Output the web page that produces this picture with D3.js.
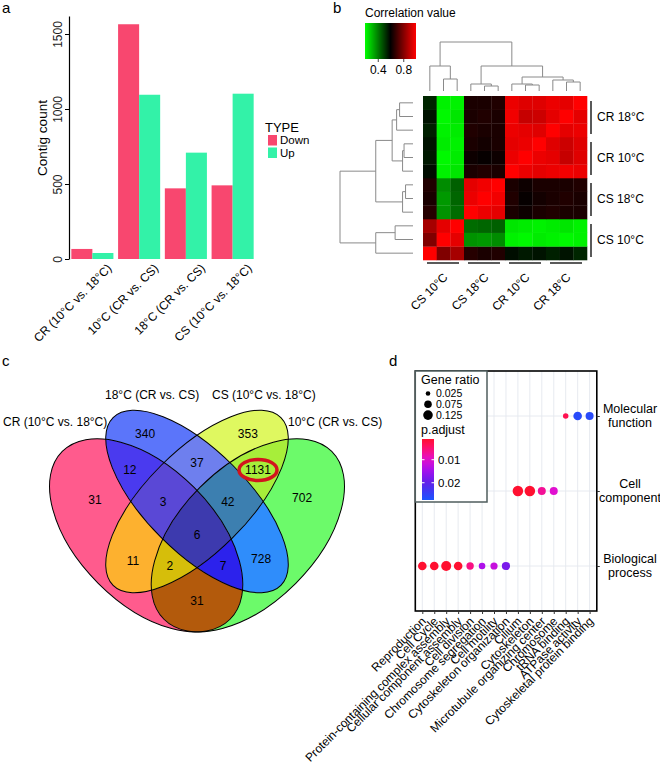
<!DOCTYPE html>
<html><head><meta charset="utf-8">
<script src="https://cdn.jsdelivr.net/npm/d3@7"></script>
<style>body{margin:0;background:#fff} svg{display:block;font-family:"Liberation Sans",Arial,Helvetica,sans-serif}</style>
</head><body><svg id="fig" width="660" height="769"></svg>
<script>
// ================= DATA =================
// Panel a
const groupsA = ["CR (10°C vs. 18°C)", "10°C (CR vs. CS)", "18°C (CR vs. CS)", "CS (10°C vs. 18°C)"];
const typesA = ["Down", "Up"];
const downCounts = [67, 1565, 471, 491];
const upCounts = [40, 1095, 709, 1102];
const yTicksA = [0, 500, 1000, 1500];

// Panel b
const sampleGroups = ["CS 10°C", "CS 18°C", "CR 10°C", "CR 18°C"];
const sampleGroupOf = [0,0,0,1,1,1,2,2,2,3,3,3];
const corr = [
  [1.00,0.80,0.86,0.66,0.64,0.65,0.58,0.56,0.57,0.55,0.57,0.54],
  [0.80,1.00,0.96,0.37,0.36,0.38,0.22,0.21,0.23,0.22,0.21,0.22],
  [0.86,0.96,1.00,0.43,0.44,0.45,0.24,0.23,0.22,0.23,0.24,0.22],
  [0.66,0.37,0.43,1.00,0.97,0.96,0.64,0.62,0.64,0.65,0.64,0.64],
  [0.64,0.36,0.44,0.97,1.00,0.98,0.65,0.61,0.63,0.64,0.65,0.64],
  [0.65,0.38,0.45,0.96,0.98,1.00,0.64,0.62,0.64,0.64,0.64,0.65],
  [0.58,0.22,0.24,0.64,0.65,0.64,1.00,0.97,0.96,0.97,0.98,0.97],
  [0.56,0.21,0.23,0.62,0.61,0.62,0.97,1.00,0.97,0.96,0.91,0.95],
  [0.57,0.23,0.22,0.64,0.63,0.64,0.96,0.97,1.00,0.95,0.92,0.95],
  [0.55,0.22,0.23,0.65,0.64,0.64,0.97,0.96,0.95,1.00,0.96,0.97],
  [0.57,0.21,0.24,0.64,0.65,0.64,0.98,0.91,0.92,0.96,1.00,0.96],
  [0.54,0.22,0.22,0.64,0.64,0.65,0.97,0.95,0.95,0.97,0.96,1.00]
];
const corrKeyTicks = [0.4, 0.8];
// dendrogram: [height, left, right], leaves = sample index
const dendroTree = [49, [25, 0, [12, 1, 2]], [25, [7, 3, [5, 4, 5]], [14, [7, 6, [6, 7, 8]], [11, 9, [9, 10, 11]]]]];

// Panel c
const vennSets = ["CR (10°C vs. 18°C)", "18°C (CR vs. CS)", "CS (10°C vs. 18°C)", "10°C (CR vs. CS)"];
const vennRegionSets = [[0],[1],[2],[3],[0,1],[1,2],[2,3],[0,2],[1,3],[0,3],[0,1,2],[1,2,3],[0,2,3],[0,1,3],[0,1,2,3]];
const vennCounts = [31, 340, 353, 702, 12, 37, 1131, 11, 728, 31, 3, 42, 2, 7, 6];
const vennRegionColors = ["#FF5B8D","#5B75FA","#DFF860","#6CFA6A","#4A3AEF","#6E7FEE","#A7EE3A","#FDB12F","#2F8DFB","#B35A0C","#5A48D6","#3C7FB0","#D6BE0A","#2C22EC","#3D3AAE"];
const vennHighlight = 1131;

// Panel d
const goTerms = ["Reproduction","Cell Cycle","Protein-containing complex assembly","Cellular component assembly","Cell division","Chromosome segregation","Cell motility","Cytoskeleton organization","Cilium","Cytoskeleton","Microtubule organizing center","Chromosome","tRNA binding","ATPase activity","Cytoskeletal protein binding"];
const goCategories = ["Molecular function","Cell component","Biological process"];
const goTermCategory = ["Biological process","Biological process","Biological process","Biological process","Biological process","Biological process","Biological process","Biological process","Cell component","Cell component","Cell component","Cell component","Molecular function","Molecular function","Molecular function"];
const geneRatio = [0.099,0.099,0.137,0.099,0.072,0.056,0.068,0.090,0.152,0.152,0.085,0.085,0.037,0.099,0.085];
const pAdjust = [0.001,0.001,0.001,0.001,0.006,0.014,0.012,0.018,0.001,0.001,0.007,0.010,0.003,0.026,0.026];
const sizeLegendValues = [0.025, 0.075, 0.125];
const pLegendTicks = [0.01, 0.02];

// ================= DRAW =================
const svg = d3.select("#fig");
const defs = svg.append("defs");
const FONT = 12;
const FF = '"Liberation Sans",Arial,sans-serif';

function panelLabel(t, x, y){ svg.append("text").attr("x",x).attr("y",y).attr("font-size",15).text(t); }
panelLabel("a", 2, 13); panelLabel("b", 333, 13); panelLabel("c", 2, 366); panelLabel("d", 389, 366);

// ---------- Panel a ----------
{
  const g = svg.append("g");
  const x = d3.scaleBand().domain(groupsA).range([69, 256]).paddingInner(0.1).paddingOuter(0.05);
  const xs = d3.scaleBand().domain(typesA).range([0, x.bandwidth()]);
  const y = d3.scaleLinear().domain([0, 1620]).range([259, 16]);
  const col = d3.scaleOrdinal().domain(typesA).range(["#F8476F", "#33F2A8"]);
  const rows = [];
  groupsA.forEach((grp, i) => { rows.push({grp, type:"Down", v:downCounts[i]}); rows.push({grp, type:"Up", v:upCounts[i]}); });
  g.selectAll("rect.bar").data(rows).join("rect").attr("class","bar")
    .attr("x", d => x(d.grp) + xs(d.type)).attr("width", xs.bandwidth())
    .attr("y", d => y(d.v)).attr("height", d => y(0) - y(d.v))
    .attr("fill", d => col(d.type));
  const ax = g.append("g").attr("transform","translate(69,0)")
    .call(d3.axisLeft(y).tickValues(yTicksA).tickFormat(d3.format("d")).tickSize(4).tickSizeOuter(0));
  ax.select(".domain").attr("stroke","#000").attr("stroke-width",1.2);
  ax.selectAll(".tick line").attr("stroke","#000");
  ax.selectAll(".tick text").attr("transform","rotate(-90)").attr("x",0).attr("y",-7).attr("dy",0)
    .attr("text-anchor","middle").attr("font-size",FONT).attr("fill","#222").attr("font-family",FF);
  g.append("text").attr("transform","translate(47,138) rotate(-90)").attr("text-anchor","middle")
    .attr("font-size",13.5).text("Contig count");
  g.selectAll("text.xl").data(groupsA).join("text").attr("class","xl")
    .attr("transform", d => `translate(${x(d)+x.bandwidth()/2+20},269) rotate(-45)`)
    .attr("text-anchor","end").attr("font-size",FONT).text(d => d);
  // legend
  g.append("text").attr("x",265).attr("y",132).attr("font-size",13).text("TYPE");
  typesA.forEach((t,i) => {
    g.append("rect").attr("x",268).attr("y",135+i*12.5).attr("width",9).attr("height",10.5).attr("fill",col(t));
    g.append("text").attr("x",280).attr("y",144+i*12.5).attr("font-size",11.5).text(t);
  });
}

// ---------- Panel b ----------
{
  const g = svg.append("g");
  const n = corr.length;
  const x = d3.scaleBand().domain(d3.range(n)).range([423, 587]);
  const y = d3.scaleBand().domain(d3.range(n-1, -1, -1)).range([96, 260]);
  const cs = d3.scaleLinear().domain([0.2, 0.6, 1.0]).range(["#00ff00","#000000","#ff0000"]).clamp(true);
  const cells = [];
  corr.forEach((row, i) => row.forEach((v, j) => cells.push({i, j, v})));
  g.selectAll("rect.cell").data(cells).join("rect").attr("class","cell")
    .attr("x", d => x(d.j)).attr("y", d => y(d.i))
    .attr("width", x.bandwidth()+0.3).attr("height", y.bandwidth()+0.3)
    .attr("fill", d => cs(d.v));
  // key
  const grad = defs.append("linearGradient").attr("id","corrGrad");
  d3.range(0, 1.0001, 0.1).forEach(t => grad.append("stop").attr("offset", t).attr("stop-color", cs(0.2 + 0.8*t)));
  const kx = d3.scaleLinear().domain([0.2, 1.0]).range([365, 416]);
  g.append("rect").attr("x",365).attr("y",23).attr("width",51).attr("height",36).attr("fill","url(#corrGrad)");
  g.append("text").attr("x",365).attr("y",17).attr("font-size",FONT).text("Correlation value");
  const kt = g.append("g").attr("transform","translate(0,59)")
    .call(d3.axisBottom(kx).tickValues(corrKeyTicks).tickSize(3).tickSizeOuter(0).tickFormat(d3.format(".1f")));
  kt.select(".domain").remove();
  kt.selectAll(".tick line").attr("stroke","#444");
  kt.selectAll(".tick text").attr("font-size",FONT).attr("fill","#000").attr("y",6).attr("font-family",FF);
  // dendrograms
  const segs = [];
  function walk(node, pos){
    if (typeof node === "number") return {p: pos(node), h: 0};
    const [h, l, r] = node;
    const L = walk(l, pos), R = walk(r, pos);
    segs.push([L.p, L.h, L.p, h], [R.p, R.h, R.p, h], [L.p, h, R.p, h]);
    return {p: (L.p + R.p)/2, h};
  }
  walk(dendroTree, s => x(s) + x.bandwidth()/2);
  const hy = d3.scaleLinear().domain([0, 49]).range([91, 42]);
  g.selectAll("line.cd").data(segs).join("line").attr("class","cd")
    .attr("x1", d => d[0]).attr("y1", d => hy(d[1])).attr("x2", d => d[2]).attr("y2", d => hy(d[3]))
    .attr("stroke","#8a8a8a").attr("stroke-width",1);
  segs.length = 0;
  walk(dendroTree, s => y(s) + y.bandwidth()/2);
  const hx = d3.scaleLinear().domain([0, 49]).range([413, 340]);
  g.selectAll("line.rd").data(segs).join("line").attr("class","rd")
    .attr("y1", d => d[0]).attr("x1", d => hx(d[1])).attr("y2", d => d[2]).attr("x2", d => hx(d[3]))
    .attr("stroke","#8a8a8a").attr("stroke-width",1);
  // group annotations
  sampleGroups.forEach((gname, gi) => {
    const idx = d3.range(n).filter(k => sampleGroupOf[k] === gi);
    const x0 = d3.min(idx, k => x(k)), x1 = d3.max(idx, k => x(k) + x.bandwidth());
    g.append("line").attr("x1", x0+4).attr("x2", x1-5).attr("y1",263).attr("y2",263).attr("stroke","#000").attr("stroke-width",1.3);
    g.append("text").attr("transform",`translate(${(x0+x1)/2+5},278) rotate(-45)`).attr("text-anchor","end")
      .attr("font-size",FONT).text(gname);
    const y0 = d3.min(idx, k => y(k)), y1 = d3.max(idx, k => y(k) + y.bandwidth());
    g.append("line").attr("x1",591).attr("x2",591).attr("y1",y0+5).attr("y2",y1-3).attr("stroke","#000").attr("stroke-width",1.3);
    g.append("text").attr("x",597).attr("y",(y0+y1)/2).attr("dy","0.35em").attr("font-size",FONT).text(gname);
  });
}

// ---------- Panel c ----------
{
  const g = svg.append("g");
  const vx = d3.scaleLinear().domain([0,1]).range([27.5, 366.5]);
  const vy = d3.scaleLinear().domain([0,1]).range([694.7, 355.7]);
  const S = 339;
  const ell = [
    {cx:0.35, cy:0.47, a:0.35, b:0.20, rot:45},
    {cx:0.50, cy:0.57, a:0.35, b:0.15, rot:45},
    {cx:0.50, cy:0.57, a:0.35, b:0.15, rot:-45},
    {cx:0.65, cy:0.47, a:0.35, b:0.20, rot:-45}
  ];
  const setEll = (sel, e) => sel.attr("cx",0).attr("cy",0).attr("rx",e.a*S).attr("ry",e.b*S)
    .attr("transform",`translate(${vx(e.cx)},${vy(e.cy)}) rotate(${e.rot})`);
  ell.forEach((e,i) => setEll(defs.append("clipPath").attr("id","vclip"+i).append("ellipse"), e));
  vennRegionSets.forEach((sets, k) => {
    const m = defs.append("mask").attr("id","vmask"+k).attr("maskUnits","userSpaceOnUse")
      .attr("x",0).attr("y",0).attr("width",660).attr("height",769);
    m.append("rect").attr("x",0).attr("y",0).attr("width",660).attr("height",769).attr("fill","#fff");
    d3.range(4).filter(i => !sets.includes(i)).forEach(i => setEll(m.append("ellipse"), ell[i]).attr("fill","#000"));
    let gg = g;
    sets.forEach(i => gg = gg.append("g").attr("clip-path",`url(#vclip${i})`));
    gg.append("rect").attr("x",0).attr("y",380).attr("width",400).attr("height",270)
      .attr("fill", vennRegionColors[k]).attr("mask",`url(#vmask${k})`);
  });
  ell.forEach(e => setEll(g.append("ellipse"), e).attr("fill","none").attr("stroke","#000").attr("stroke-width",1));
  // region label layout (unit coordinates)
  const labelPos = [[0.199,0.574],[0.347,0.769],[0.650,0.769],[0.810,0.580],[0.302,0.663],[0.5,0.684],[0.680,0.663],
                    [0.311,0.394],[0.689,0.400],[0.5,0.276],[0.4,0.568],[0.591,0.568],[0.420,0.380],[0.577,0.380],[0.5,0.471]];
  g.selectAll("text.cnt").data(vennCounts).join("text").attr("class","cnt")
    .attr("x", (d,k) => vx(labelPos[k][0])).attr("y", (d,k) => vy(labelPos[k][1])).attr("dy","0.35em")
    .attr("text-anchor","middle").attr("font-size",FONT).text(d => d);
  const hk = vennCounts.indexOf(vennHighlight);
  g.append("ellipse").attr("cx", vx(labelPos[hk][0])).attr("cy", vy(labelPos[hk][1])).attr("rx",19).attr("ry",10.5)
    .attr("fill","none").attr("stroke","#D2141E").attr("stroke-width",3.5);
  const catPos = [[3,426],[105,399],[212,399],[288,426]];
  vennSets.forEach((s,i) => g.append("text").attr("x",catPos[i][0]).attr("y",catPos[i][1])
    .attr("font-size",FONT).text(s));
}

// ---------- Panel d ----------
{
  const g = svg.append("g");
  const x = d3.scalePoint().domain(goTerms).range([422.3, 589.6]);
  const y = d3.scalePoint().domain(goCategories).range([416, 566]);
  const r = d3.scaleSqrt().domain([0.025, 0.125]).range([2.3, 4.8]);
  const c = d3.scaleLinear().domain([0.001, 0.005, 0.010, 0.015, 0.020, 0.0275])
    .range(["#ff1030","#ff1070","#e010d0","#a010f0","#6020e8","#1a55ff"]);
  const L = 415.3, R = 596.8, T = 371, B = 611;
  g.append("rect").attr("x",L).attr("y",T).attr("width",R-L).attr("height",B-T).attr("fill","#fff");
  g.selectAll("line.gv").data(goTerms).join("line").attr("class","gv")
    .attr("x1", d => x(d)).attr("x2", d => x(d)).attr("y1",T).attr("y2",B).attr("stroke","#e4e8ee").attr("stroke-width",0.9);
  g.selectAll("line.gh").data(goCategories).join("line").attr("class","gh")
    .attr("y1", d => y(d)).attr("y2", d => y(d)).attr("x1",L).attr("x2",R).attr("stroke","#e4e8ee").attr("stroke-width",0.9);
  g.selectAll("circle.dot").data(goTerms).join("circle").attr("class","dot")
    .attr("cx", d => x(d)).attr("cy", (d,i) => y(goTermCategory[i]))
    .attr("r", (d,i) => r(geneRatio[i])).attr("fill", (d,i) => c(pAdjust[i]));
  g.append("rect").attr("x",L).attr("y",T).attr("width",R-L).attr("height",B-T).attr("fill","none")
    .attr("stroke","#000").attr("stroke-width",1.6);
  // axes
  const bx = g.append("g").attr("transform",`translate(0,${B})`).call(d3.axisBottom(x).tickSize(3).tickSizeOuter(0));
  bx.select(".domain").remove();
  bx.selectAll(".tick line").attr("stroke","#333");
  bx.selectAll(".tick text").remove();
  g.selectAll("text.xl").data(goTerms).join("text").attr("class","xl")
    .attr("transform", d => `translate(${x(d)+4.5},622) rotate(-45)`).attr("text-anchor","end")
    .attr("font-size",12).text(d => d);
  const ry = g.append("g").attr("transform",`translate(${R},0)`).call(d3.axisRight(y).tickSize(3).tickSizeOuter(0));
  ry.select(".domain").remove();
  ry.selectAll(".tick line").attr("stroke","#333");
  ry.selectAll(".tick text").remove();
  goCategories.forEach(cat => {
    const w = cat.split(" ");
    const t = g.append("text").attr("text-anchor","middle").attr("font-size",12.5);
    t.append("tspan").attr("x",630).attr("y",y(cat)-3).text(w[0]);
    t.append("tspan").attr("x",630).attr("y",y(cat)+11).text(w[1]);
  });
  // legend
  g.append("rect").attr("x",L).attr("y",T).attr("width",487-L).attr("height",502-T).attr("fill","#fff")
    .attr("stroke","#4f5d5d").attr("stroke-width",1.5);
  g.append("text").attr("x",421).attr("y",384).attr("font-size",12.5).text("Gene ratio");
  sizeLegendValues.forEach((v,i) => {
    g.append("circle").attr("cx",428).attr("cy",393.5+i*10.8).attr("r",r(v)).attr("fill","#000");
    g.append("text").attr("x",436).attr("y",393.5+i*10.8).attr("dy","0.36em").attr("font-size",10.5).text(v);
  });
  g.append("text").attr("x",421).attr("y",434).attr("font-size",12.5).text("p.adjust");
  const py = d3.scaleLinear().domain([0.001, 0.0275]).range([439, 500]);
  const pg = defs.append("linearGradient").attr("id","pGrad").attr("x1",0).attr("x2",0).attr("y1",0).attr("y2",1);
  d3.range(0, 1.0001, 0.1).forEach(t => pg.append("stop").attr("offset",t).attr("stop-color", c(py.invert(439 + 61*t))));
  g.append("rect").attr("x",422).attr("y",439).attr("width",12).attr("height",61).attr("fill","url(#pGrad)");
  pLegendTicks.forEach(v => {
    g.append("line").attr("x1",422).attr("x2",424.5).attr("y1",py(v)).attr("y2",py(v)).attr("stroke","#fff");
    g.append("line").attr("x1",431.5).attr("x2",434).attr("y1",py(v)).attr("y2",py(v)).attr("stroke","#fff");
    g.append("text").attr("x",438).attr("y",py(v)).attr("dy","0.35em").attr("font-size",11.5).text(v);
  });
}
</script></body></html>
